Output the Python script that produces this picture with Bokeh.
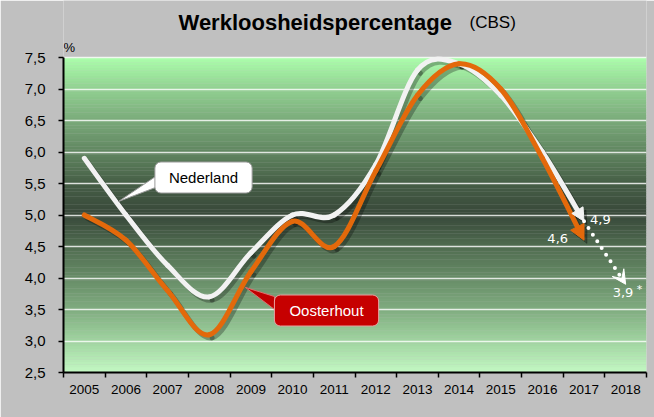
import numpy as np
from bokeh.plotting import figure
from bokeh.models import FixedTicker, CustomJSTickFormatter, Label, Arrow, NormalHead, VeeHead
from bokeh.embed import file_html
from bokeh.resources import INLINE
from bokeh.core.properties import value

# ---------------- data ----------------
years = [2005, 2006, 2007, 2008, 2009, 2010, 2011, 2012, 2013, 2014, 2015, 2016, 2017]
nederland = [5.9, 5.0, 4.2, 3.7, 4.4, 5.0, 5.0, 5.8, 7.3, 7.4, 6.9, 6.0, 4.9]
oosterhout = [5.0, 4.6, 3.8, 3.1, 4.1, 4.9, 4.5, 5.7, 6.9, 7.4, 7.0, 5.9, 4.6]
forecast_years = [2017, 2018]
forecast_nederland = [4.9, 3.9]
year_labels = [2005, 2006, 2007, 2008, 2009, 2010, 2011, 2012, 2013, 2014, 2015, 2016, 2017, 2018]
y_ticks = [2.5, 3.0, 3.5, 4.0, 4.5, 5.0, 5.5, 6.0, 6.5, 7.0, 7.5]

FONT = "Liberation Sans"
ORANGE = "#e3690b"
WHITE = "#f2f2f2"
BG = "#c0c0c0"
X0, X1 = 2004.5, 2018.5
Y0, Y1 = 2.5, 7.5
Y_TOP = 7.5 + 57 / 63.0   # frame extends up to the top of the canvas (title area)

p = figure(width=654, height=417, x_range=(X0, X1), y_range=(Y0, Y_TOP),
           output_backend="svg", toolbar_location=None, title=None,
           min_border_left=63, min_border_right=8, min_border_top=0, min_border_bottom=45)
p.background_fill_color = BG
p.border_fill_color = BG
p.outline_line_color = None

# ---------------- background gradient (plot area only) ----------------
stops = [(2.5, (195, 248, 195)), (3.0, (160, 212, 160)), (3.5, (128, 172, 128)),
         (4.0, (103, 140, 103)), (4.5, (80, 108, 80)), (5.0, (56, 72, 58)),
         (5.5, (70, 94, 70)), (6.0, (96, 134, 96)), (6.5, (122, 170, 122)),
         (7.0, (145, 208, 145)), (7.5, (172, 255, 172))]
sy = np.array([s[0] for s in stops])
sc = np.array([s[1] for s in stops], dtype=float)
nstrip = 120
edges = np.linspace(Y0, Y1, nstrip + 1)
mids = (edges[:-1] + edges[1:]) / 2
cols = []
for m in mids:
    rgb = [int(round(np.interp(m, sy, sc[:, k]))) for k in range(3)]
    cols.append("#%02x%02x%02x" % tuple(rgb))
tops = edges[1:] + 0.002
tops[-1] = Y1
p.quad(left=X0, right=X1, bottom=edges[:-1], top=tops,
       fill_color=cols, line_color=None, level="image")

# ---------------- axes & grid ----------------
p.xgrid.visible = False
p.ygrid.ticker = FixedTicker(ticks=y_ticks)
p.ygrid.grid_line_color = "white"
p.ygrid.grid_line_alpha = 0.8
p.ygrid.grid_line_width = 1.5

p.yaxis.ticker = FixedTicker(ticks=y_ticks)
p.yaxis.bounds = (Y0, Y1)
p.yaxis.formatter = CustomJSTickFormatter(code="return tick.toFixed(1).replace('.', ',');")
p.yaxis.axis_line_width = 2
p.yaxis.axis_line_color = "black"
p.yaxis.major_tick_out = 5
p.yaxis.major_tick_in = 0
p.yaxis.major_tick_line_width = 1.5
p.yaxis.minor_tick_line_color = None
p.yaxis.major_label_text_font = FONT
p.yaxis.major_label_text_font_size = "15px"
p.yaxis.major_label_text_color = "black"
p.yaxis.major_label_standoff = 13

bounds = [y - 0.5 for y in year_labels] + [year_labels[-1] + 0.5]
p.xaxis.ticker = FixedTicker(ticks=year_labels, minor_ticks=bounds)
p.xaxis.formatter = CustomJSTickFormatter(code="return tick.toFixed(0);")
p.xaxis.axis_line_width = 2
p.xaxis.axis_line_color = "black"
p.xaxis.major_tick_out = 0
p.xaxis.major_tick_in = 0
p.xaxis.minor_tick_out = 5
p.xaxis.minor_tick_in = 0
p.xaxis.minor_tick_line_color = "black"
p.xaxis.minor_tick_line_width = 1.5
p.xaxis.major_label_text_font = FONT
p.xaxis.major_label_text_font_size = "13.5px"
p.xaxis.major_label_text_color = "black"
p.xaxis.major_label_standoff = 7


# ---------------- smooth curves (Bezier from data) ----------------
def bezier_segments(xs, ys):
    P = np.column_stack([xs, ys]).astype(float)
    n = len(P)
    segs = []
    for i in range(n - 1):
        a = P[i - 1] if i > 0 else P[i]
        d = P[i + 2] if i + 2 < n else P[i + 1]
        c1 = P[i] + (P[i + 1] - a) / 6.0
        c2 = P[i + 1] - (d - P[i]) / 6.0
        segs.append([P[i], c1, c2, P[i + 1]])
    return segs


def split(seg, t):
    p0, p1, p2, p3 = seg
    q0 = p0 + (p1 - p0) * t
    q1 = p1 + (p2 - p1) * t
    q2 = p2 + (p3 - p2) * t
    r0 = q0 + (q1 - q0) * t
    r1 = q1 + (q2 - q1) * t
    s = r0 + (r1 - r0) * t
    return [p0, q0, r0, s]


def draw_series(xs, ys, color, width, head_size, dx=0.0, dy=0.0, alpha=1.0):
    segs = bezier_segments(xs, ys)
    last = segs[-1]
    segs_draw = segs[:-1] + [split(last, 0.85)]
    arr = np.array(segs_draw)
    p.bezier(x0=arr[:, 0, 0] + dx, y0=arr[:, 0, 1] + dy,
             x1=arr[:, 3, 0] + dx, y1=arr[:, 3, 1] + dy,
             cx0=arr[:, 1, 0] + dx, cy0=arr[:, 1, 1] + dy,
             cx1=arr[:, 2, 0] + dx, cy1=arr[:, 2, 1] + dy,
             line_color=color, line_width=width, line_alpha=alpha, line_cap="round")
    tip = last[3]
    start = split(last, 0.85)[3]
    p.add_layout(Arrow(x_start=start[0] + dx, y_start=start[1] + dy,
                       x_end=tip[0] + dx, y_end=tip[1] + dy,
                       line_alpha=0,
                       end=NormalHead(size=head_size, fill_color=color, fill_alpha=alpha,
                                      line_color=color, line_alpha=alpha, line_width=1)))


# shadows
draw_series(years, nederland, "black", 5, 13, dx=0.07, dy=-0.05, alpha=0.28)
draw_series(years, oosterhout, "black", 5, 15, dx=0.07, dy=-0.05, alpha=0.28)
# lines
draw_series(years, nederland, WHITE, 5, 13)
draw_series(years, oosterhout, ORANGE, 5, 15)

# forecast dotted arrow
p.add_layout(Arrow(x_start=forecast_years[0], y_start=forecast_nederland[0],
                   x_end=forecast_years[1], y_end=forecast_nederland[1],
                   line_color="white", line_width=4, line_dash="0 8", line_cap="round",
                   end=VeeHead(size=14, fill_color="white", line_color="white", line_width=1)))


# value labels
def fmt(v):
    return ("%.1f" % v).replace(".", ",")


vfont = value("DejaVu Sans")
p.text(x=[years[-1]], y=[nederland[-1]], text=[fmt(nederland[-1])], x_offset=6, y_offset=-2,
       text_font=vfont, text_font_size="13px", text_color="white",
       text_align="left", text_baseline="middle")
p.text(x=[years[-1]], y=[oosterhout[-1]], text=[fmt(oosterhout[-1])], x_offset=-16, y_offset=-2,
       text_font=vfont, text_font_size="13px", text_color="white",
       text_align="right", text_baseline="middle")
p.text(x=[forecast_years[-1]], y=[forecast_nederland[-1]], text=[fmt(forecast_nederland[-1])],
       x_offset=-13, y_offset=8,
       text_font=vfont, text_font_size="13px", text_color="white",
       text_align="left", text_baseline="middle")
p.text(x=[forecast_years[-1]], y=[forecast_nederland[-1]], text=["*"],
       x_offset=11, y_offset=5,
       text_font=vfont, text_font_size="11px", text_color="white",
       text_align="left", text_baseline="middle")

# ---------------- callouts ----------------
p.patch(x=[2006.71, 2006.71, 2005.82], y=[5.611, 5.437, 5.214],
        fill_color="white", line_color="#9a9a9a", line_width=1)
p.patch(x=[2009.567, 2009.567, 2008.87], y=[3.706, 3.500, 3.85],
        fill_color="#c00000", line_color="#e07070", line_width=1)

for (cx, cy, txt, bgc, tc, bc, ph) in [(2007.862, 5.595, "Nederland", "white", "black", "#9a9a9a", 14),
                                       (2010.816, 3.484, "Oosterhout", "#c60000", "white", "#e8a0a0", 15)]:
    p.add_layout(Label(x=cx, y=cy, text=txt, x_offset=3, y_offset=-3,
                       text_font=FONT, text_font_size="15px", text_alpha=0,
                       text_align="center", text_baseline="middle",
                       background_fill_color="black", background_fill_alpha=0.3,
                       padding=(ph, 7), border_radius=6))
    p.add_layout(Label(x=cx, y=cy, text=txt,
                       text_font=FONT, text_font_size="15px", text_color=tc,
                       text_align="center", text_baseline="middle",
                       background_fill_color=bgc, border_line_color=bc, border_line_width=1,
                       padding=(ph, 7), border_radius=6))

# ---------------- title & unit (inside the extended frame) ----------------
p.text(x=[2007.262], y=[8.056], text=["Werkloosheidspercentage"],
       text_font=value(FONT), text_font_size="22px", text_font_style="bold",
       text_color="black", text_align="left", text_baseline="middle")
p.text(x=[2014.25], y=[8.056], text=["(CBS)"],
       text_font=value(FONT), text_font_size="17px",
       text_color="black", text_align="left", text_baseline="middle")
p.text(x=[2004.5], y=[7.66], text=["%"],
       text_font=value(FONT), text_font_size="13px",
       text_color="black", text_align="left", text_baseline="middle")

open("out.html", "w").write(file_html(p, INLINE))
